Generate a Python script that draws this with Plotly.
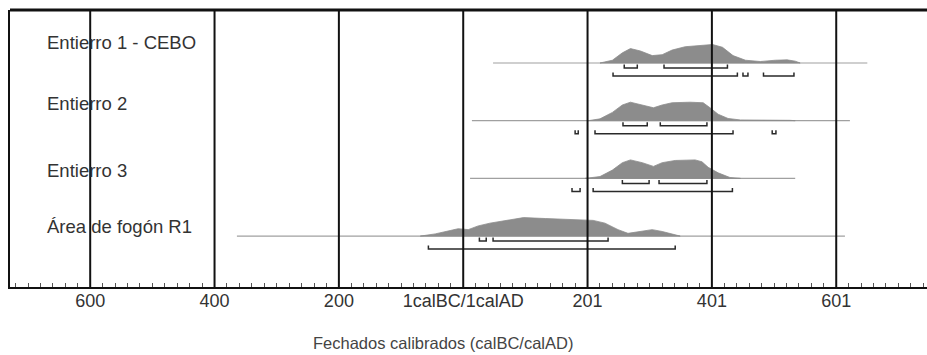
import plotly.graph_objects as go

# ---------------- data ----------------
SAMPLES = ["Entierro 1 - CEBO", "Entierro 2", "Entierro 3", "Área de fogón R1"]

# axis units: 0 = 1calBC/1calAD, negative = BC, positive = AD (label = value + 1)
TICK_VALS = [-600, -400, -200, 0, 200, 400, 600]
TICK_TEXT = ["600", "400", "200", "1calBC/1calAD", "201", "401", "601"]

# probability curves (year, relative density)
E1_YEARS = [220, 240, 256, 269, 285, 304, 320, 336, 357, 381, 401, 417, 434, 454, 478, 502, 521, 534, 542]
E1_DENS = [0, 0.15, 0.55, 0.78, 0.65, 0.40, 0.45, 0.70, 0.88, 0.95, 1.0, 0.85, 0.40, 0.15, 0.08, 0.15, 0.17, 0.10, 0]

E2_YEARS = [201, 220, 240, 256, 269, 288, 306, 320, 336, 365, 386, 397, 410, 426, 446, 526, 534]
E2_DENS = [0, 0.10, 0.45, 0.85, 1.0, 0.85, 0.70, 0.85, 0.97, 1.0, 0.97, 0.70, 0.35, 0.12, 0.04, 0.02, 0]

E3_YEARS = [196, 220, 240, 256, 269, 288, 306, 320, 341, 373, 384, 394, 410, 429, 446]
E3_DENS = [0, 0.10, 0.45, 0.85, 1.0, 0.85, 0.65, 0.85, 0.97, 1.0, 0.90, 0.60, 0.30, 0.05, 0]

R1_YEARS = [-69, -45, -21, -8, 8, 24, 43, 68, 97, 132, 172, 209, 228, 249, 265, 285, 304, 320, 336, 349]
R1_DENS = [0, 0.12, 0.30, 0.40, 0.35, 0.55, 0.70, 0.85, 1.0, 0.95, 0.88, 0.85, 0.70, 0.35, 0.15, 0.25, 0.35, 0.25, 0.10, 0]

# extent of the thin baseline of each calibration curve
E1_SPAN = [48, 650]
E2_SPAN = [14, 622]
E3_SPAN = [11, 534]
R1_SPAN = [-364, 614]

# 68.2 % ranges
E1_R68 = [[259, 280], [323, 425]]
E2_R68 = [[257, 296], [317, 392]]
E3_R68 = [[256, 299], [315, 392]]
R1_R68 = [[26, 37], [48, 233]]

# 95.4 % ranges
E1_R95 = [[241, 441], [450, 458], [483, 532]]
E2_R95 = [[180, 185], [212, 434], [497, 503]]
E3_R95 = [[175, 188], [209, 433]]
R1_R95 = [[-56, 341]]

ROWS = [
    (E1_YEARS, E1_DENS, E1_SPAN, E1_R68, E1_R95),
    (E2_YEARS, E2_DENS, E2_SPAN, E2_R68, E2_R95),
    (E3_YEARS, E3_DENS, E3_SPAN, E3_R68, E3_R95),
    (R1_YEARS, R1_DENS, R1_SPAN, R1_R68, R1_R95),
]

# ---------------- layout constants (pixel-like y units) ----------------
PLOT_H = 277
ROW0 = 53
ROW_STEP = 57.7
PEAK_H = 18.5
OFF68 = 5
OFF95 = 13
END_H = 3.5
LABEL_DY = [-21, -17, -8, -10]
X_MIN, X_MAX = -729, 746
LABEL_X = -672
FONT = "Liberation Sans, Arial, sans-serif"

fig = go.Figure()

for i, (yrs, dens, span, r68, r95) in enumerate(ROWS):
    base = ROW0 + i * ROW_STEP
    # baseline
    fig.add_trace(go.Scatter(x=span, y=[base, base], mode="lines",
                             line=dict(color="#a0a0a0", width=1.2),
                             hoverinfo="skip", showlegend=False))
    # filled distribution
    px = list(yrs) + [yrs[-1], yrs[0]]
    py = [base - PEAK_H * d for d in dens] + [base, base]
    fig.add_trace(go.Scatter(x=px, y=py, mode="lines", fill="toself",
                             fillcolor="#8c8c8c", line=dict(color="#8c8c8c", width=0.8),
                             hoverinfo="skip", showlegend=False))
    # range brackets
    for ranges, off in ((r68, OFF68), (r95, OFF95)):
        bx, by = [], []
        yb = base + off
        for a, b in ranges:
            bx += [a, a, b, b, None]
            by += [yb - END_H, yb, yb, yb - END_H, None]
        fig.add_trace(go.Scatter(x=bx, y=by, mode="lines",
                                 line=dict(color="#2a2a2a", width=1.5),
                                 hoverinfo="skip", showlegend=False))
    fig.add_annotation(x=LABEL_X, y=base + LABEL_DY[i], text=SAMPLES[i],
                       xanchor="left", yanchor="middle", showarrow=False,
                       font=dict(family=FONT, size=18.5, color="#333333"))

# vertical grid lines drawn above the curves
for v in TICK_VALS:
    fig.add_shape(type="line", x0=v, x1=v, y0=0, y1=1, xref="x", yref="paper",
                  line=dict(color="#111111", width=2), layer="above")

# thick top border
fig.add_shape(type="line", x0=0, x1=1, y0=1, y1=1, xref="paper", yref="paper",
              line=dict(color="#111111", width=3), layer="above")

fig.add_annotation(x=0.472, y=-56 / PLOT_H, xref="paper", yref="paper",
                   text="Fechados calibrados (calBC/calAD)", showarrow=False,
                   xanchor="center", yanchor="middle",
                   font=dict(family=FONT, size=16.5, color="#444444"))

fig.update_layout(
    width=927, height=355,
    margin=dict(l=10, r=0, t=10, b=68),
    paper_bgcolor="white", plot_bgcolor="white",
    xaxis=dict(range=[X_MIN, X_MAX], tickvals=TICK_VALS, ticktext=TICK_TEXT,
               showgrid=False, zeroline=False, showline=True, linecolor="#111111", linewidth=2,
               ticks="inside", ticklen=5, tickcolor="#333333", tickwidth=1,
               ticklabelstandoff=-4,
               minor=dict(ticks="inside", ticklen=4, dtick=20, tick0=0, tickcolor="#555555", tickwidth=1),
               tickfont=dict(family=FONT, size=18, color="#333333")),
    yaxis=dict(range=[PLOT_H, 0], showgrid=False, zeroline=False, showticklabels=False,
               showline=True, linecolor="#111111", linewidth=2, ticks=""),
)

fig.write_html("out.html", config={"displayModeBar": False},
               post_script="document.body.style.margin='0px';document.body.style.overflow='hidden';")
